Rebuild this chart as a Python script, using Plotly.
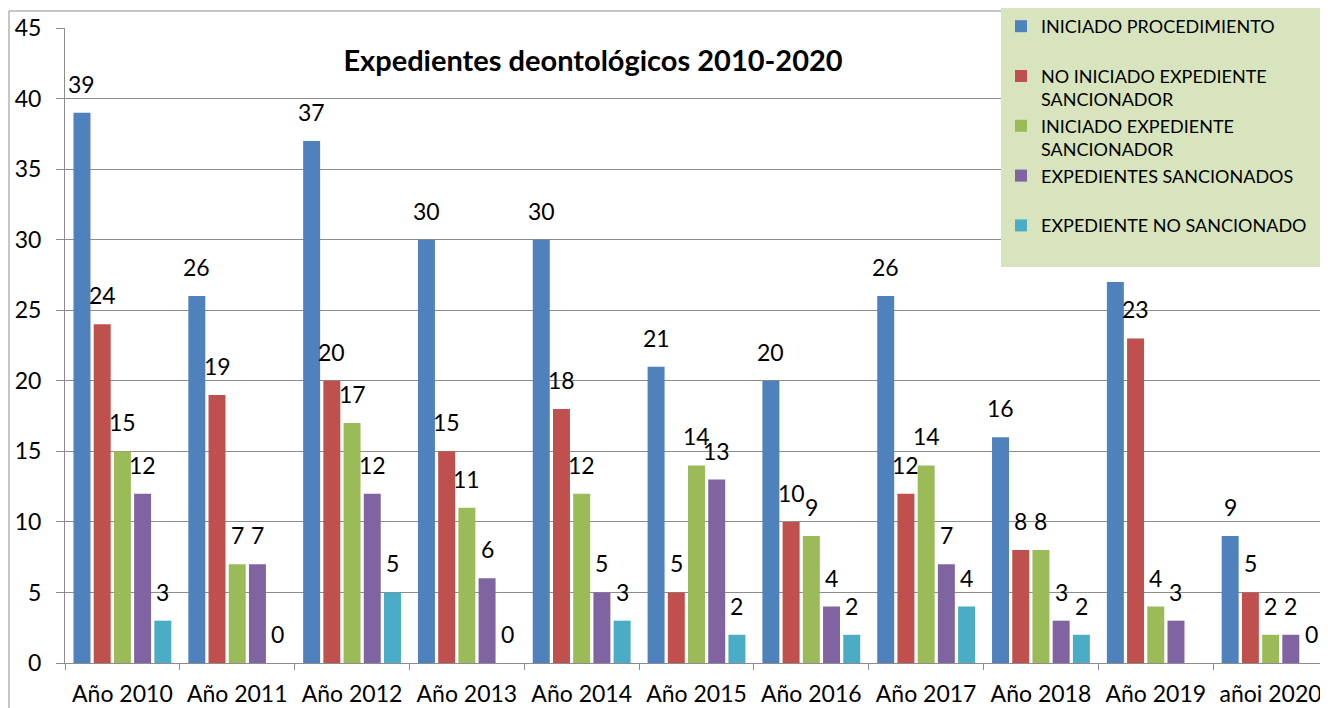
import plotly.graph_objects as go

categories = ["Año 2010", "Año 2011", "Año 2012", "Año 2013", "Año 2014", "Año 2015",
              "Año 2016", "Año 2017", "Año 2018", "Año 2019", "añoi 2020"]

series_names = ["INICIADO PROCEDIMIENTO<br> ",
                "NO INICIADO EXPEDIENTE<br>SANCIONADOR",
                "INICIADO EXPEDIENTE<br>SANCIONADOR",
                "EXPEDIENTES SANCIONADOS<br> ",
                "EXPEDIENTE NO SANCIONADO&nbsp;&nbsp;&nbsp;<br> "]

iniciado_procedimiento = [39, 26, 37, 30, 30, 21, 20, 26, 16, 27, 9]
no_iniciado_expediente = [24, 19, 20, 15, 18, 5, 10, 12, 8, 23, 5]
iniciado_expediente = [15, 7, 17, 11, 12, 14, 9, 14, 8, 4, 2]
expedientes_sancionados = [12, 7, 12, 6, 5, 13, 4, 7, 3, 3, 2]
expediente_no_sancionado = [3, 0, 5, 0, 3, 2, 2, 4, 2, None, 0]

series_values = [iniciado_procedimiento, no_iniciado_expediente, iniciado_expediente,
                 expedientes_sancionados, expediente_no_sancionado]
colors = ["#4F81BD", "#C0504D", "#9BBB59", "#8064A2", "#4BACC6"]

# in the original, the data label of (series 0, "Año 2019") lies under the legend box
labels_hidden_by_legend = {(0, "Año 2019")}

FONT = "Lato"
bargap = 0.12
bargroupgap = 0.16

# page body adds an 8px offset; figure is sized so it ends at the window edge
W, H = 1320, 700
OFF = 8

fig = go.Figure()
for name, vals, c in zip(series_names, series_values, colors):
    fig.add_trace(go.Bar(x=categories, y=vals, name=name,
                         marker=dict(color=c, line=dict(width=0))))

# data labels
n = len(series_values)
slot = (1 - bargap) / n
annotations = []
for i, vals in enumerate(series_values):
    for j, v in enumerate(vals):
        if v is None or (i, categories[j]) in labels_hidden_by_legend:
            continue
        annotations.append(dict(
            x=j + (i - (n - 1) / 2) * slot, y=v, xref="x", yref="y",
            text=str(v), showarrow=False, yanchor="bottom", yshift=13,
            font=dict(family=FONT, size=23, color="#000000")))

ml, mt, mb, mr = 65 - OFF, 28 - OFF, 45, 0
plot_h = H - mt - mb
plot_w = W - ml - mr

fig.update_layout(
    width=W, height=H,
    barmode="group", bargap=bargap, bargroupgap=bargroupgap,
    plot_bgcolor="white", paper_bgcolor="white",
    margin=dict(l=ml, r=mr, t=mt, b=mb, autoexpand=False),
    font=dict(family=FONT, color="#000000"),
    title=dict(text="<b>Expedientes deontológicos 2010-2020</b>",
               x=(593 - OFF) / W, xanchor="center", xref="container",
               y=1 - (61 - OFF) / H, yanchor="middle", yref="container",
               font=dict(family=FONT, size=29, color="#000000")),
    legend=dict(xref="container", yref="container",
                x=(1001 - OFF) / W, y=1 - (7 - OFF) / H, xanchor="left", yanchor="top",
                bgcolor="#D7E4BD", borderwidth=0, valign="top",
                font=dict(family=FONT, size=18, color="#000000"),
                itemsizing="constant", tracegroupgap=0),
    annotations=annotations,
    shapes=[dict(type="rect", xref="paper", yref="paper",
                 x0=(9 - OFF - ml) / plot_w, x1=1.05, y0=-0.3,
                 y1=(H - mb - (11 - OFF)) / plot_h,
                 line=dict(color="#8C8C8C", width=1), fillcolor="rgba(0,0,0,0)",
                 layer="below")],
)

fig.update_yaxes(range=[0, 45], dtick=5, showgrid=True, gridcolor="#8C8C8C", gridwidth=1,
                 showline=True, linecolor="#8C8C8C", ticks="outside", ticklen=8,
                 tickcolor="#8C8C8C", tickfont=dict(family=FONT, size=23, color="#000000"),
                 ticklabelstandoff=10, zeroline=False)
fig.update_xaxes(showline=True, linecolor="#8C8C8C", ticks="outside", ticklen=6,
                 tickcolor="#8C8C8C", tickson="boundaries", tickangle=0,
                 tickfont=dict(family=FONT, size=23, color="#000000"),
                 ticklabelstandoff=10)

fig.write_html("out.html")
